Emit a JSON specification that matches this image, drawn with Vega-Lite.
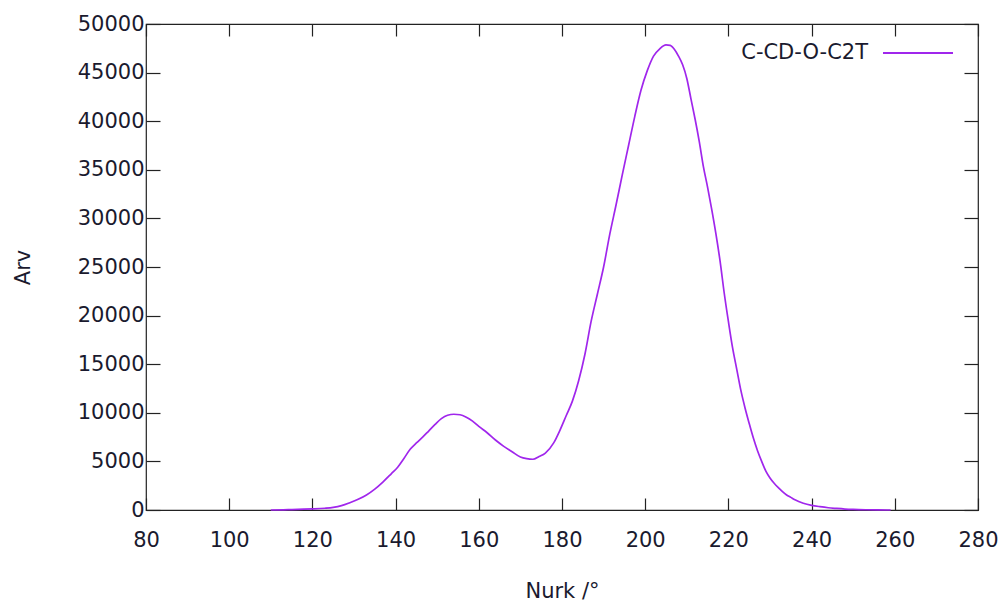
{
  "$schema": "https://vega.github.io/schema/vega-lite/v6.json",
  "width": 832,
  "height": 486,
  "autosize": {"type": "none"},
  "padding": {"left": 146, "top": 24, "right": 30, "bottom": 96},
  "background": "white",
  "config": {
    "font": "DejaVu Sans",
    "view": {"stroke": "#222222", "strokeWidth": 1.2},
    "axis": {
      "grid": false,
      "domain": false,
      "tickColor": "#222222",
      "tickWidth": 1.2,
      "labelFont": "DejaVu Sans",
      "labelFontSize": 21,
      "labelColor": "#1a1a2e",
      "titleFont": "DejaVu Sans",
      "titleFontSize": 21,
      "titleFontWeight": "normal",
      "titleColor": "#1a1a2e"
    }
  },
  "data": {
    "values": [
      {"angle": 110, "count": 0}, {"angle": 113, "count": 15}, {"angle": 115, "count": 40},
      {"angle": 118, "count": 80}, {"angle": 120, "count": 110}, {"angle": 123, "count": 180},
      {"angle": 125, "count": 270}, {"angle": 127, "count": 450}, {"angle": 129, "count": 750},
      {"angle": 131, "count": 1100}, {"angle": 133, "count": 1550}, {"angle": 135, "count": 2150},
      {"angle": 137, "count": 2900}, {"angle": 139, "count": 3750}, {"angle": 140.5, "count": 4400},
      {"angle": 142, "count": 5300}, {"angle": 143.5, "count": 6250}, {"angle": 145, "count": 6900},
      {"angle": 146.5, "count": 7500}, {"angle": 148, "count": 8150}, {"angle": 149.5, "count": 8800},
      {"angle": 151, "count": 9400}, {"angle": 152.5, "count": 9750}, {"angle": 154, "count": 9850},
      {"angle": 155.5, "count": 9800}, {"angle": 157, "count": 9550}, {"angle": 158.5, "count": 9150},
      {"angle": 160, "count": 8600}, {"angle": 162, "count": 7950}, {"angle": 164, "count": 7200},
      {"angle": 166, "count": 6550}, {"angle": 168, "count": 6000}, {"angle": 170, "count": 5450},
      {"angle": 171.5, "count": 5280}, {"angle": 173, "count": 5220}, {"angle": 174.5, "count": 5500},
      {"angle": 176, "count": 5850}, {"angle": 178, "count": 6900}, {"angle": 179.5, "count": 8200},
      {"angle": 181, "count": 9700}, {"angle": 182.5, "count": 11200}, {"angle": 184, "count": 13300},
      {"angle": 185.5, "count": 16000}, {"angle": 187, "count": 19400}, {"angle": 188.5, "count": 22200},
      {"angle": 190, "count": 25000}, {"angle": 191.5, "count": 28400}, {"angle": 193, "count": 31400},
      {"angle": 194.5, "count": 34500}, {"angle": 196, "count": 37500}, {"angle": 197.5, "count": 40500},
      {"angle": 199, "count": 43200}, {"angle": 200.5, "count": 45200}, {"angle": 202, "count": 46700},
      {"angle": 203.5, "count": 47450}, {"angle": 205, "count": 47850}, {"angle": 206, "count": 47800},
      {"angle": 207, "count": 47400}, {"angle": 208, "count": 46700}, {"angle": 209, "count": 45800},
      {"angle": 210, "count": 44400}, {"angle": 211, "count": 42300}, {"angle": 212, "count": 40200},
      {"angle": 213, "count": 37900}, {"angle": 214, "count": 35300}, {"angle": 215, "count": 33200},
      {"angle": 216, "count": 30900}, {"angle": 217, "count": 28400}, {"angle": 218, "count": 25600},
      {"angle": 219, "count": 22300}, {"angle": 220, "count": 19400}, {"angle": 221, "count": 16700},
      {"angle": 222, "count": 14500}, {"angle": 223, "count": 12300}, {"angle": 224, "count": 10500},
      {"angle": 225, "count": 8900}, {"angle": 226, "count": 7400}, {"angle": 227, "count": 6100},
      {"angle": 228, "count": 5000}, {"angle": 229, "count": 4000}, {"angle": 230, "count": 3300},
      {"angle": 231, "count": 2750}, {"angle": 232, "count": 2300}, {"angle": 233, "count": 1900},
      {"angle": 234, "count": 1550}, {"angle": 235, "count": 1300}, {"angle": 236, "count": 1050},
      {"angle": 238, "count": 700}, {"angle": 240, "count": 480}, {"angle": 242, "count": 340},
      {"angle": 244, "count": 230}, {"angle": 246, "count": 160}, {"angle": 248, "count": 100},
      {"angle": 250, "count": 60}, {"angle": 253, "count": 25}, {"angle": 256, "count": 8},
      {"angle": 259, "count": 0}
    ]
  },
  "layer": [
    {
      "mark": {"type": "line", "strokeWidth": 1.7, "interpolate": "monotone"},
      "encoding": {
        "x": {
          "field": "angle", "type": "quantitative",
          "scale": {"domain": [80, 280], "nice": false, "zero": false},
          "axis": {"orient": "bottom", "values": [80, 100, 120, 140, 160, 180, 200, 220, 240, 260, 280],
                   "tickSize": -12, "labelPadding": 31, "title": "Nurk /°", "titlePadding": 30, "labelFlush": false}
        },
        "y": {
          "field": "count", "type": "quantitative",
          "scale": {"domain": [0, 50000], "nice": false},
          "axis": {"orient": "left", "values": [0, 5000, 10000, 15000, 20000, 25000, 30000, 35000, 40000, 45000, 50000],
                   "tickSize": -14, "labelPadding": 16, "format": "d", "title": "Arv", "titlePadding": 44}
        },
        "color": {
          "datum": "C-CD-O-C2T", "type": "nominal",
          "scale": {"range": ["#a026ec"]},
          "legend": {
            "orient": "none", "legendX": 736, "legendY": -7, "title": null, "padding": 0,
            "symbolType": "stroke", "symbolSize": 4900, "symbolStrokeWidth": 1.8,
            "labelFont": "DejaVu Sans", "labelFontSize": 21, "labelColor": "#1a1a2e",
            "labelAlign": "right", "labelOffset": -86, "labelLimit": 300
          }
        }
      }
    },
    {
      "mark": {"type": "line", "opacity": 0},
      "encoding": {
        "x": {
          "field": "angle", "type": "quantitative",
          "scale": {"domain": [80, 280], "nice": false, "zero": false},
          "axis": {"orient": "top", "values": [80, 100, 120, 140, 160, 180, 200, 220, 240, 260, 280],
                   "tickSize": -12, "labels": false, "title": null}
        },
        "y": {
          "field": "count", "type": "quantitative",
          "scale": {"domain": [0, 50000], "nice": false},
          "axis": {"orient": "right", "values": [0, 5000, 10000, 15000, 20000, 25000, 30000, 35000, 40000, 45000, 50000],
                   "tickSize": -14, "labels": false, "title": null}
        }
      }
    }
  ],
  "resolve": {"scale": {"x": "independent", "y": "independent"}, "axis": {"x": "independent", "y": "independent"}}
}
